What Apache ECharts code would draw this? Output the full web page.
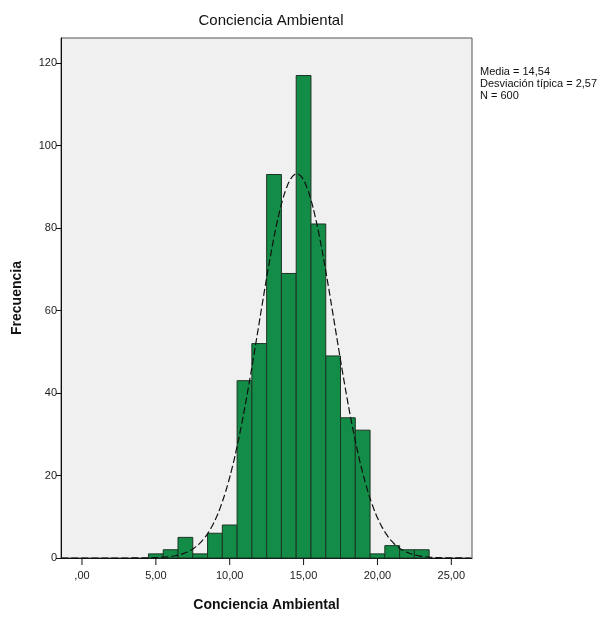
<!DOCTYPE html>
<html>
<head>
<meta charset="utf-8">
<script src="https://cdn.jsdelivr.net/npm/echarts@6/dist/echarts.min.js"></script>
<style>
  html, body { margin: 0; padding: 0; background: #fff; }
  #main { width: 598px; height: 620px; }
</style>
</head>
<body>
<div id="main"></div>
<script>
// bins of width 1, centred on whole values
const binCenters = [5, 6, 7, 8, 9, 10, 11, 12, 13, 14, 15, 16, 17, 18, 19, 20, 21, 22, 23];
const counts = [1, 2, 5, 1, 6, 8, 43, 52, 93, 69, 117, 81, 49, 34, 31, 1, 3, 2, 2];
const xTicks = [0, 5, 10, 15, 20, 25];
const xTickLabels = [',00', '5,00', '10,00', '15,00', '20,00', '25,00'];
const yTicks = [0, 20, 40, 60, 80, 100, 120];
const stats = ['Media = 14,54', 'Desviación típica = 2,57', 'N = 600'];
const media = 14.54;
const desv = 2.57;
const n = 600;
const binWidth = 1;

// normal curve drawn by SPSS over the histogram
const curve = [];
for (let x = -1.4; x <= 26.4; x += 0.1) {
  const z = (x - media) / desv;
  curve.push([x, n * binWidth * Math.exp(-0.5 * z * z) / (desv * Math.sqrt(2 * Math.PI))]);
}

const chart = echarts.init(document.getElementById('main'));

const option = {
  animation: false,
  backgroundColor: '#fff',
  title: {
    text: 'Conciencia Ambiental',
    left: 266,
    textAlign: 'center',
    top: 8,
    textStyle: { fontFamily: 'Liberation Sans', fontSize: 15, fontWeight: 'normal', color: '#111' },
  },
  grid: {
    left: 61,
    right: 126,
    top: 38,
    bottom: 62,
    show: true,
    backgroundColor: '#f0f0f0',
    borderColor: '#555',
    borderWidth: 1,
  },
  xAxis: {
    type: 'value',
    min: -1.42,
    max: 26.4,
    name: 'Conciencia Ambiental',
    nameLocation: 'middle',
    nameGap: 40,
    nameTextStyle: { fontFamily: 'Liberation Sans', fontSize: 14, fontWeight: 'bold', color: '#111' },
    axisLine: { lineStyle: { color: '#111' } },
    axisTick: { show: false },
    axisLabel: { show: false },
    splitLine: { show: false },
  },
  yAxis: {
    type: 'value',
    min: 0,
    max: 126.1,
    interval: 20,
    name: 'Frecuencia',
    nameLocation: 'middle',
    nameGap: 37,
    nameTextStyle: { fontFamily: 'Liberation Sans', fontSize: 14, fontWeight: 'bold', color: '#111' },
    axisLine: { show: true, onZero: false, lineStyle: { color: '#111' } },
    axisTick: { show: true, length: 5, customValues: yTicks, lineStyle: { color: '#111' } },
    axisLabel: {
      fontFamily: 'Liberation Sans', fontSize: 11, color: '#222', margin: 4,
      customValues: yTicks,
    },
    splitLine: { show: false },
  },
  series: [
    {
      type: 'custom',
      renderItem: (params, api) => {
        const c = api.value(0);
        const lo = api.coord([c - binWidth / 2, 0]);
        const hi = api.coord([c + binWidth / 2, api.value(1)]);
        return {
          type: 'rect',
          shape: { x: lo[0], y: hi[1], width: hi[0] - lo[0], height: lo[1] - hi[1] },
          style: { fill: '#128c46', stroke: '#1d3524', lineWidth: 1 },
        };
      },
      encode: { x: 0, y: 1 },
      data: binCenters.map((c, i) => [c, counts[i]]),
      z: 2,
    },
    {
      type: 'line',
      data: curve,
      showSymbol: false,
      smooth: true,
      lineStyle: { color: '#111', width: 1.2, type: [7, 3] },
      z: 3,
    },
    {
      // x ticks and their labels
      type: 'custom',
      renderItem: (params, api) => {
        const p = api.coord([api.value(0), 0]);
        return {
          type: 'group',
          children: [
            { type: 'line', shape: { x1: p[0], y1: p[1], x2: p[0], y2: p[1] + 7 }, style: { stroke: '#111', lineWidth: 1 } },
            {
              type: 'text',
              x: p[0], y: p[1] + 12,
              style: {
                text: xTickLabels[params.dataIndex], align: 'center', verticalAlign: 'top',
                fontFamily: 'Liberation Sans', fontSize: 11, fill: '#222',
              },
            },
          ],
        };
      },
      data: xTicks.map((t) => [t, 0]),
      clip: false,
      silent: true,
      z: 4,
    },
  ],
  graphic: [
    {
      type: 'text',
      left: 480,
      top: 66,
      style: {
        text: stats.join('\n'),
        fontFamily: 'Liberation Sans Narrow, Liberation Sans',
        fontSize: 11,
        lineHeight: 12,
        fill: '#111',
      },
    },
  ],
};

chart.setOption(option);
</script>
</body>
</html>
